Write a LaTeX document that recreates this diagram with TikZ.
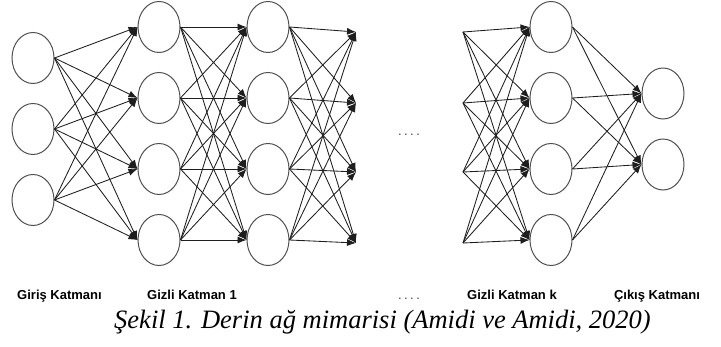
\documentclass[tikz,border=0pt]{standalone}
\usepackage{fontspec}
\usepackage{tikz}
\usetikzlibrary{arrows.meta, shapes.geometric, positioning}
\newfontfamily\labelfont{Liberation Sans}
\newfontfamily\captionfont{Liberation Serif}
\definecolor{nodegray}{RGB}{80, 80, 80}
\definecolor{edgegray}{RGB}{30, 30, 30}

\tikzset{
  neuron/.style={ellipse, draw=nodegray, line width=1pt, minimum width=42pt, minimum height=51pt, inner sep=0pt},
  link/.style={draw=edgegray, line width=0.85pt, -{Latex[length=9pt, width=7pt]}},
  layerlabel/.style={anchor=base, font=\labelfont\bfseries\fontsize{13}{15}\selectfont},
  gapmark/.style={anchor=base, text=black!75, font=\labelfont\fontsize{13}{15}\selectfont},
}

\begin{document}
\begin{tikzpicture}[x=1pt, y=-1pt]
        \useasboundingbox (0,0) rectangle (721,347);
        % Input layer
        \foreach \i/\y in {1/58, 2/129, 3/200}
          \node[neuron] (in\i) at (33,\y) {};
        % Hidden layers
        \foreach \i/\y in {1/27, 2/98, 3/169, 4/240} {
          \node[neuron] (ha\i) at (159,\y) {};
          \node[neuron] (hb\i) at (268,\y) {};
          \node[neuron] (hk\i) at (551,\y) {};
        }
        % Output layer
        \node[neuron] (out1) at (663,93.5) {};
        \node[neuron] (out2) at (663,164.5) {};
        % Loose ends on both sides of the gap
        \foreach \i/\y in {1/32, 2/103, 3/172, 4/243} {
          \coordinate (cut\i) at (356,\y);
          \coordinate (resume\i) at (463,\y);
        }
        % Connections
        \foreach \i in {1,2,3}
          \foreach \j in {1,...,4}
            \draw[link] (in\i.east) -- (ha\j.west);
        \foreach \i in {1,...,4}
          \foreach \j in {1,...,4} {
            \draw[link] (ha\i.east) -- (hb\j.west);
            \draw[link] (hb\i.east) -- (cut\j);
            \draw[link] (resume\i) -- (hk\j.west);
          }
        \foreach \i in {1,...,4}
          \foreach \j in {1,2}
            \draw[link] (hk\i.east) -- (out\j.west);
        \node[gapmark] (gapdots) at (409,136) {.\hspace{2.5pt}.\hspace{2.5pt}.\hspace{2.5pt}.};
        % Layer names
        \node[layerlabel] (lblin) at (59.5,300) {Giriş Katmanı};
        \node[layerlabel] (lblha) at (192,300) {Gizli Katman 1};
        \node[gapmark] (lbldots) at (409,300) {.\hspace{2.5pt}.\hspace{2.5pt}.\hspace{2.5pt}.};
        \node[layerlabel] (lblhk) at (512,300) {Gizli Katman k};
        \node[layerlabel] (lblout) at (657,300) {Çıkış Katmanı};
        \node[anchor=base, font=\captionfont\itshape\fontsize{26.5}{30}\selectfont] (caption) at (382.5,329) {Şekil 1. Derin ağ mimarisi (Amidi ve Amidi, 2020)};
      \end{tikzpicture}
\end{document}
